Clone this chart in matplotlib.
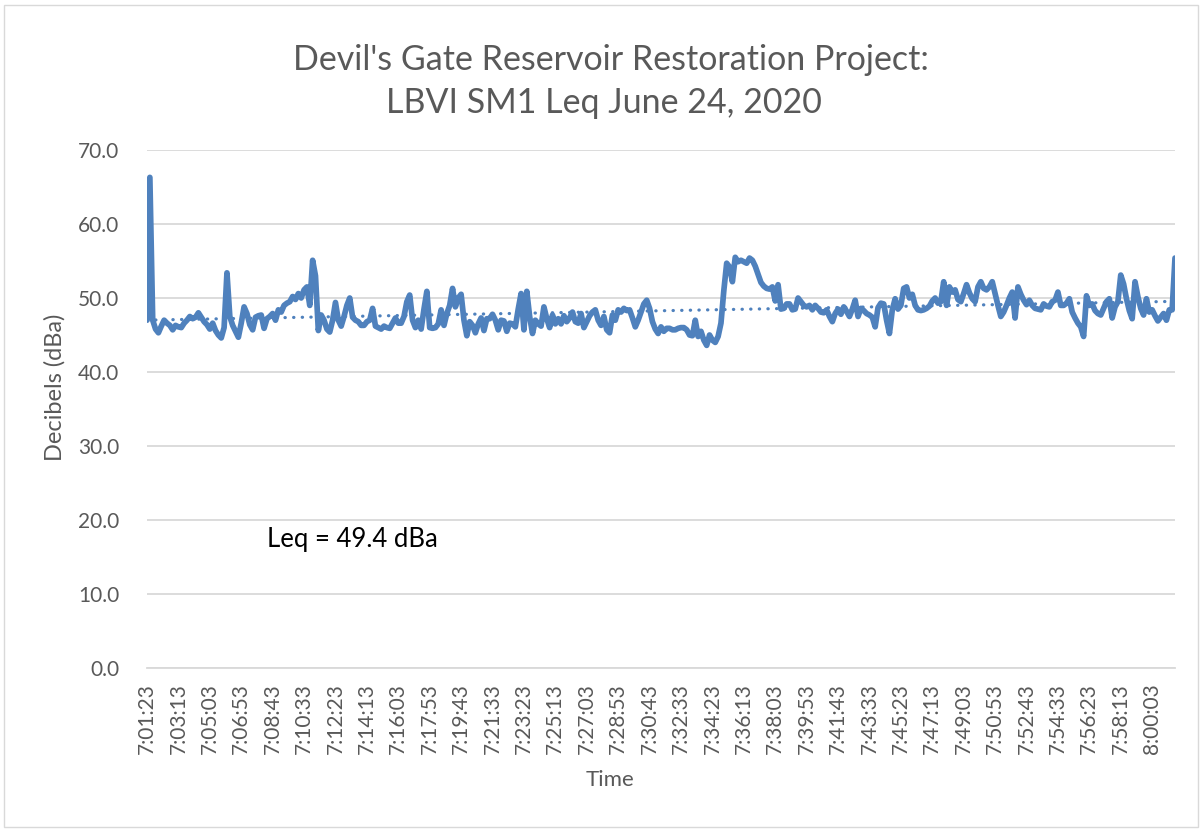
import matplotlib
matplotlib.use("Agg")
import matplotlib.pyplot as plt
import numpy as np
import pandas as pd
from matplotlib.patches import Rectangle

# ---------------- data ----------------
start_time = "07:01:23"
step_seconds = 10

leq_values = [
    47.0, 66.3, 47.0, 45.8, 45.3, 46.2, 47.0, 46.6, 46.3, 45.7,
    46.3, 46.1, 46.0, 46.6, 47.0, 47.5, 47.2, 47.4, 48.0, 47.4,
    46.8, 46.4, 45.8, 46.6, 45.6, 45.0, 44.6, 46.0, 53.4, 47.5,
    46.3, 45.5, 44.7, 46.6, 48.8, 47.9, 46.4, 45.7, 47.4, 47.6,
    47.7, 45.9, 47.2, 47.5, 47.9, 47.0, 48.4, 48.1, 49.0, 49.3,
    49.5, 50.2, 49.8, 50.6, 50.0, 51.1, 51.5, 49.0, 55.1, 53.0,
    45.6, 47.7, 47.0, 45.8, 45.4, 47.0, 49.4, 47.0, 46.2, 47.5,
    49.0, 50.0, 47.4, 47.0, 46.8, 46.3, 46.3, 46.8, 47.0, 48.6,
    46.2, 46.0, 45.8, 46.2, 46.0, 45.9, 46.6, 47.3, 46.6, 46.6,
    47.5, 49.5, 50.4, 47.0, 46.0, 47.0, 45.8, 48.5, 50.9, 46.0,
    45.9, 46.0, 46.5, 48.4, 46.3, 47.9, 49.0, 51.3, 48.8, 50.0,
    50.5, 47.0, 44.9, 46.8, 46.3, 45.3, 46.5, 47.3, 45.6, 47.2,
    47.2, 47.8, 47.0, 45.7, 47.0, 46.9, 45.5, 46.6, 46.5, 46.1,
    48.5, 50.6, 45.7, 50.9, 47.5, 45.2, 47.0, 46.5, 46.2, 48.8,
    47.2, 46.0, 47.7, 46.5, 47.2, 46.5, 47.6, 46.8, 47.3, 48.1,
    46.8, 46.6, 47.9, 46.0, 46.8, 47.6, 48.1, 48.4, 47.0, 46.3,
    47.5, 45.7, 45.3, 47.7, 47.0, 48.4, 48.1, 48.6, 48.3, 48.4,
    47.3, 46.1, 47.0, 48.1, 49.2, 49.7, 48.6, 46.8, 45.8, 45.2,
    46.1, 45.5, 45.9, 45.9, 45.7, 45.7, 45.9, 46.0, 46.0, 45.7,
    45.0, 44.9, 47.0, 44.8, 45.5, 44.3, 43.6, 45.0, 44.3, 44.0,
    44.8, 46.6, 51.0, 54.7, 54.2, 52.2, 55.5, 54.9, 55.1, 54.9,
    54.7, 55.4, 55.1, 54.3, 53.2, 52.1, 51.6, 51.3, 51.2, 51.5,
    49.6, 51.8, 48.5, 48.6, 49.2, 49.2, 48.4, 48.5, 50.0, 49.5,
    49.0, 48.8, 49.0, 48.4, 49.0, 48.6, 48.1, 48.0, 48.4, 47.5,
    46.8, 47.9, 48.5, 47.8, 48.8, 48.2, 47.5, 48.5, 49.7, 47.5,
    48.6, 48.3, 47.9, 47.7, 47.4, 46.1, 48.7, 49.3, 49.2, 47.0,
    45.2, 48.4, 49.9, 48.5, 49.0, 51.3, 51.5, 50.0, 50.5, 49.0,
    48.4, 48.3, 48.4, 48.6, 48.9, 49.6, 50.0, 49.3, 49.5, 52.2,
    49.0, 51.5, 50.8, 51.1, 49.8, 49.5, 50.6, 51.8, 50.7, 49.9,
    49.5, 51.5, 52.2, 51.3, 51.1, 51.5, 52.2, 50.6, 49.0, 47.5,
    48.1, 49.0, 50.0, 50.8, 47.3, 51.5, 50.5, 49.7, 49.1, 49.7,
    49.0, 48.6, 48.5, 48.4, 49.2, 48.9, 48.8, 49.5, 49.7, 50.8,
    49.0, 49.0, 49.3, 49.9, 48.1, 47.3, 46.6, 46.1, 44.8, 50.3,
    49.0, 49.2, 48.3, 47.9, 47.7, 48.6, 49.5, 49.9, 47.3, 48.8,
    49.5, 53.1, 51.9, 49.9, 48.3, 47.2, 52.2, 50.2, 48.6, 47.7,
    49.9, 48.1, 48.4, 47.6, 46.9, 47.4, 47.9, 47.0, 48.4, 48.4, 55.4,
]

tick_every = 11
y_ticks = [0, 10, 20, 30, 40, 50, 60, 70]

title_line1 = "Devil's Gate Reservoir Restoration Project:"
title_line2 = "LBVI SM1 Leq June 24, 2020"
x_title = "Time"
y_title = "Decibels (dBa)"
annotation = "Leq = 49.4 dBa"

# ---------------- derived categories ----------------
times = pd.date_range("2020-06-24 " + start_time, periods=len(leq_values),
                      freq=f"{step_seconds}s")
time_labels = [f"{t.hour}:{t.minute:02d}:{t.second:02d}" for t in times]
x = np.arange(len(leq_values))

# ---------------- style ----------------
plt.rcParams['font.family'] = ['Lato', 'DejaVu Sans']
grey_text = "#595959"
line_col = "#4F81BD"
grid_col = "#D9D9D9"

fig = plt.figure(figsize=(12.04, 8.32), dpi=100)
fig.patch.set_facecolor("white")
# chart border
fig.add_artist(Rectangle((4 / 1204, 5 / 832), 1194 / 1204, 822 / 832,
                         transform=fig.transFigure, fill=False,
                         edgecolor="#D9D9D9", linewidth=1.0))

ax = fig.add_axes([147 / 1204, 1 - 668 / 832, (1175 - 147) / 1204, (668 - 150) / 832])

ax.plot(x, leq_values, color=line_col, linewidth=4.1, solid_joinstyle="round",
        solid_capstyle="round", zorder=3)

# linear trendline (Excel style)
coef = np.polyfit(x, leq_values, 1)
ax.plot(x, np.polyval(coef, x), color=line_col, linewidth=2.3,
        linestyle=(0, (0.1, 2.6)), dash_capstyle="round", zorder=2)

ax.set_xlim(0, len(leq_values) - 1)
ax.set_ylim(0, 70)
ax.set_yticks(y_ticks)
ax.set_yticklabels([f"{v:.1f}" for v in y_ticks])
tick_pos = x[::tick_every]
ax.set_xticks(tick_pos)
ax.set_xticklabels([time_labels[i] for i in tick_pos], rotation=90)

ax.grid(axis="y", color=grid_col, linewidth=1.3)
ax.set_axisbelow(True)
for s in ["top", "right", "left"]:
    ax.spines[s].set_visible(False)
ax.spines["bottom"].set_color(grid_col)
ax.spines["bottom"].set_linewidth(1.3)
ax.tick_params(axis="both", length=0, colors=grey_text, labelsize=15)
ax.tick_params(axis="x", pad=11)
ax.tick_params(axis="y", pad=20)

ax.text(42, 17.3, annotation, fontsize=18.5, color="black", va="center", ha="left")

fig.text(611 / 1204, 1 - 60 / 832, title_line1, fontsize=24.5, color=grey_text,
         ha="center", va="center")
fig.text(604 / 1204, 1 - 103 / 832, title_line2, fontsize=24.5, color=grey_text,
         ha="center", va="center")
fig.text(610 / 1204, 1 - 780 / 832, x_title, fontsize=16, color=grey_text,
         ha="center", va="center")
fig.text(55 / 1204, 1 - 387 / 832, y_title, fontsize=17, color=grey_text,
         ha="center", va="center", rotation=90)

fig.savefig("out.png", dpi=100, facecolor="white")
